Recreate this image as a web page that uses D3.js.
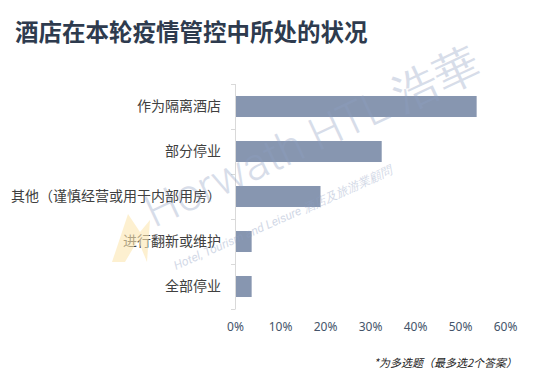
<!DOCTYPE html>
<html>
<head>
<meta charset="utf-8">
<script src="https://cdn.jsdelivr.net/npm/d3@7"></script>
<style>
  body { margin: 0; background: #fff; }
  svg { font-family: "Noto Sans CJK SC", "Noto Sans", sans-serif; }
</style>
</head>
<body>
<svg id="chart" width="550" height="375"></svg>
<script>
// data
const categories = ["作为隔离酒店", "部分停业", "其他（谨慎经营或用于内部用房）", "进行翻新或维护", "全部停业"];
const shares = [0.537, 0.326, 0.19, 0.037, 0.037];
const tickValues = [0, 0.1, 0.2, 0.3, 0.4, 0.5, 0.6];

const svg = d3.select("#chart");

// title
svg.append("text")
  .attr("x", 15)
  .attr("y", 41)
  .attr("font-size", 23.5)
  .attr("font-weight", "bold")
  .attr("fill", "#2e3b4e")
  .text("酒店在本轮疫情管控中所处的状况");

// scales
const x = d3.scaleLinear().domain([0, 0.6]).range([235, 505]);
const y = d3.scaleBand().domain(categories).range([84, 309])
  .paddingInner(0.533).paddingOuter(0.2665);

// bars
svg.selectAll("rect.bar")
  .data(categories)
  .join("rect")
  .attr("class", "bar")
  .attr("x", x(0) + 1)
  .attr("y", d => y(d))
  .attr("width", (d, i) => x(shares[i]) - x(0) - 1)
  .attr("height", y.bandwidth())
  .attr("fill", "#8796b0");

// vertical axis line with boundary ticks
const axisG = svg.append("g").attr("stroke", "#d9d9d9").attr("stroke-width", 1);
axisG.append("line")
  .attr("x1", 235.5).attr("x2", 235.5)
  .attr("y1", 84).attr("y2", 309);
const bounds = d3.range(categories.length + 1).map(i => 84 + i * y.step());
axisG.selectAll("line.tick")
  .data(bounds)
  .join("line")
  .attr("class", "tick")
  .attr("x1", 231).attr("x2", 235.5)
  .attr("y1", d => Math.round(d) + 0.5)
  .attr("y2", d => Math.round(d) + 0.5);

// category labels
svg.selectAll("text.cat")
  .data(categories)
  .join("text")
  .attr("class", "cat")
  .attr("x", 221)
  .attr("y", d => y(d) + y.bandwidth() / 2)
  .attr("dy", "0.35em")
  .attr("text-anchor", "end")
  .attr("font-size", 14)
  .attr("fill", "#404040")
  .text(d => d);

// watermark (sits over the bars)
const wm = svg.append("g");
wm.append("path")
  .attr("d", "M112,262 L128,214 L140,232 L150,220 L147,262 L138,240 L125,262 Z")
  .attr("fill", "#fbe6b0")
  .attr("opacity", 0.6);
wm.append("text")
  .attr("transform", "translate(154,228) rotate(-25)")
  .attr("font-family", "Roboto, 'Noto Sans', sans-serif")
  .attr("font-weight", 300)
  .attr("font-size", 45)
  .attr("fill", "#8fa0c2")
  .attr("opacity", 0.35)
  .text("Horwath HTL 浩華");
wm.append("text")
  .attr("transform", "translate(176,270) rotate(-24)")
  .attr("font-family", "Roboto, 'Noto Sans', sans-serif")
  .attr("font-style", "italic")
  .attr("font-size", 12)
  .attr("fill", "#8fa0c2")
  .attr("opacity", 0.4)
  .text("Hotel, Tourism and Leisure  酒店及旅游業顧問");

// x axis labels
const xAxis = svg.append("g")
  .attr("transform", "translate(0,319)")
  .call(d3.axisBottom(x).tickValues(tickValues).tickFormat(d3.format(".0%")).tickSize(0));
xAxis.select(".domain").remove();
xAxis.selectAll("text")
  .attr("font-family", "'Noto Sans', sans-serif")
  .attr("font-size", 12)
  .attr("fill", "#44546a");

// footnote
svg.append("text")
  .attr("x", 517)
  .attr("y", 367)
  .attr("text-anchor", "end")
  .attr("font-size", 11)
  .attr("font-style", "italic")
  .attr("fill", "#222")
  .text("*为多选题（最多选2个答案）");
</script>
</body>
</html>
